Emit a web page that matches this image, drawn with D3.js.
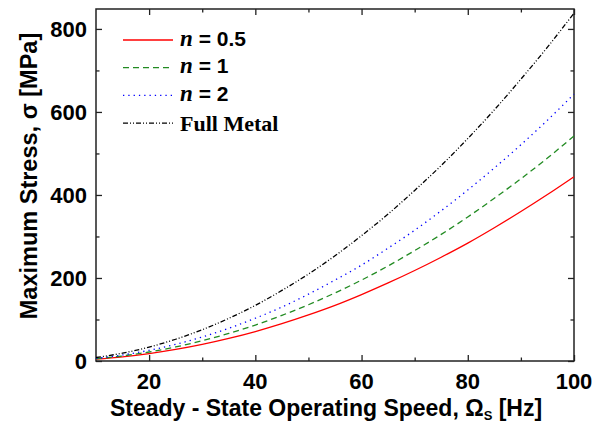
<!DOCTYPE html>
<html>
<head>
<meta charset="utf-8">
<script src="https://cdn.jsdelivr.net/npm/d3@7"></script>
<style>
  body { margin: 0; background: #fff; }
  text { font-family: "Liberation Sans", Arial, sans-serif; font-weight: bold; fill: #000; }
</style>
</head>
<body>
<script>
// speed [Hz]
var speed = [10, 15, 20, 25, 30, 35, 40, 45, 50, 55, 60, 65, 70, 75, 80, 85, 90, 95, 100];
// max stress [MPa]
var stressN05 = [4.4, 10, 17.8, 27.8, 40, 54.4, 71, 90, 111, 134, 160, 188, 218, 250, 284, 321, 360, 401, 444];
var stressN1 = [5.4, 12.2, 21.7, 33.9, 48.8, 66.4, 86.7, 110, 135.5, 164, 195, 229, 266, 305, 347, 392, 439, 489, 542];
var stressN2 = [6.4, 14.5, 25.7, 40.2, 57.9, 78.8, 103, 130, 161, 195, 231, 272, 315, 362, 412, 465, 521, 580, 643];
var stressMetal = [8.4, 18.9, 33.5, 52.4, 75.4, 102.7, 134, 170, 209.5, 253.5, 302, 354, 411, 471, 536, 605, 679, 756, 838];

var xTicks = [20, 40, 60, 80, 100];
var yTicks = [0, 200, 400, 600, 800];

var series = [
  {n: "0.5", values: stressN05, color: "#ff0000", dash: null},
  {n: "1", values: stressN1, color: "#228b22", dash: "6,4"},
  {n: "2", values: stressN2, color: "#0000ff", dash: "1.3,4"},
  {n: null, label: "Full Metal", values: stressMetal, color: "#000", dash: "5,2,1,2,1,2"}
];

var margin = {top: 9, right: 28, bottom: 62, left: 96},
    width = 602 - margin.left - margin.right,
    height = 423 - margin.top - margin.bottom;

var svg = d3.select("body").append("svg")
    .attr("width", 602)
    .attr("height", 423)
  .append("g")
    .attr("transform", "translate(" + margin.left + "," + margin.top + ")");

var xScale = d3.scaleLinear().domain([10, 100]).range([0, width]);
var yScale = d3.scaleLinear().domain([0, 848]).range([height, 0]);

// ticks, inside, on all four sides
var xMinor = d3.range(30, 100, 20);
var yMinor = d3.range(100, 848, 200);

function tickAxis(axisFn, scale, vals, len) {
  return axisFn(scale).tickValues(vals).tickSizeInner(-len).tickSizeOuter(0).tickFormat("");
}

var axes = svg.append("g").attr("class", "axes");
axes.append("g").attr("transform", "translate(0," + height + ")")
    .call(tickAxis(d3.axisBottom, xScale, xTicks, 6));
axes.append("g").attr("transform", "translate(0," + height + ")")
    .call(tickAxis(d3.axisBottom, xScale, xMinor, 3.5));
axes.append("g").call(tickAxis(d3.axisTop, xScale, xTicks, 6));
axes.append("g").call(tickAxis(d3.axisTop, xScale, xMinor, 3.5));
axes.append("g").call(tickAxis(d3.axisLeft, yScale, yTicks, 6));
axes.append("g").call(tickAxis(d3.axisLeft, yScale, yMinor, 3.5));
axes.append("g").attr("transform", "translate(" + width + ",0)")
    .call(tickAxis(d3.axisRight, yScale, yTicks, 6));
axes.append("g").attr("transform", "translate(" + width + ",0)")
    .call(tickAxis(d3.axisRight, yScale, yMinor, 3.5));
axes.selectAll(".domain").remove();
axes.selectAll("line").attr("stroke", "#222").attr("stroke-width", 1.3);

svg.append("rect")
    .attr("width", width).attr("height", height)
    .attr("fill", "none").attr("stroke", "#222").attr("stroke-width", 1.5);

// tick labels
svg.selectAll(".xlab").data(xTicks).enter().append("text")
    .attr("x", function(d) { return xScale(d); })
    .attr("y", height + 28)
    .attr("text-anchor", "middle")
    .style("font-size", "22px")
    .text(function(d) { return d; });

svg.selectAll(".ylab").data(yTicks).enter().append("text")
    .attr("x", -9)
    .attr("y", function(d) { return yScale(d); })
    .attr("dy", "0.36em")
    .attr("text-anchor", "end")
    .style("font-size", "22px")
    .text(function(d) { return d; });

// axis titles
var xt = svg.append("text")
    .attr("x", width / 2 - 9)
    .attr("y", height + 55)
    .attr("text-anchor", "middle")
    .style("font-size", "23px");
xt.append("tspan").text("Steady - State Operating Speed, \u03A9");
xt.append("tspan").attr("dy", 4).style("font-size", "13px").text("S");
xt.append("tspan").attr("dy", -4).text(" [Hz]");

svg.append("text")
    .attr("transform", "rotate(-90)")
    .attr("x", -height / 2 + 9)
    .attr("y", -59)
    .attr("text-anchor", "middle")
    .style("font-size", "23.5px")
    .text("Maximum Stress, \u03C3 [MPa]");

// curves
var line = d3.line()
    .x(function(d, i) { return xScale(speed[i]); })
    .y(function(d) { return yScale(d); })
    .curve(d3.curveMonotoneX);

svg.selectAll(".curve").data(series).enter().append("path")
    .attr("class", "curve")
    .attr("d", function(s) { return line(s.values); })
    .attr("fill", "none")
    .attr("stroke", function(s) { return s.color; })
    .attr("stroke-width", 1.3)
    .attr("stroke-dasharray", function(s) { return s.dash; });

// legend
var legend = svg.selectAll(".legend").data(series).enter().append("g")
    .attr("transform", function(d, i) { return "translate(27," + (31 + i * 27.7) + ")"; });

legend.append("line")
    .attr("x1", 0).attr("x2", 50)
    .attr("stroke", function(s) { return s.color; })
    .attr("stroke-width", 1.3)
    .attr("stroke-dasharray", function(s) { return s.dash; });

legend.each(function(s) {
  var t = d3.select(this).append("text")
      .attr("x", 57).attr("dy", "0.36em");
  if (s.n) {
    t.append("tspan").style("font-family", "'Liberation Serif', 'Times New Roman', serif")
        .style("font-style", "italic").style("font-size", "23px").text("n");
    t.append("tspan").style("font-size", "21px").text(" = " + s.n);
  } else {
    t.style("font-family", "'Liberation Serif', 'Times New Roman', serif")
        .style("font-size", "22px").text(s.label);
  }
});
</script>
</body>
</html>
